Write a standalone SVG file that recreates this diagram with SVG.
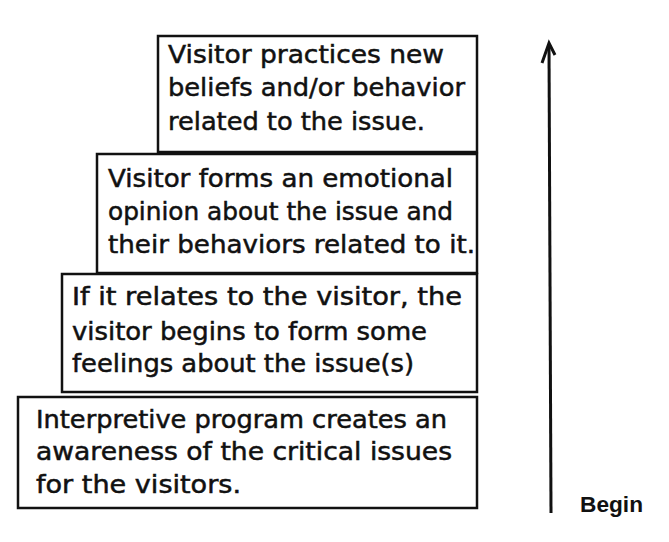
<svg xmlns="http://www.w3.org/2000/svg" width="669" height="542" viewBox="0 0 669 542">
<style>
.box{fill:#fff;stroke:#111;stroke-width:2.5}
.t{font-family:"DejaVu Sans","Liberation Sans",sans-serif;font-size:24px;fill:#111;stroke:#111;stroke-width:0.5}
.begin{font-family:"Liberation Sans",sans-serif;font-size:22px;font-weight:bold;fill:#111}
</style>
<rect width="669" height="542" fill="#fff"/>
<g id="node-1">
<rect class="box" x="158" y="36" width="319" height="116"/>
<text class="t" x="168" y="63" textLength="276" lengthAdjust="spacingAndGlyphs">Visitor practices new</text>
<text class="t" x="168" y="96" textLength="297" lengthAdjust="spacingAndGlyphs">beliefs and/or behavior</text>
<text class="t" x="168" y="130" textLength="257" lengthAdjust="spacingAndGlyphs">related to the issue.</text>
</g>
<g id="node-2">
<rect class="box" x="97" y="154" width="380" height="119"/>
<text class="t" x="108" y="187" textLength="345" lengthAdjust="spacingAndGlyphs">Visitor forms an emotional</text>
<text class="t" x="108" y="220" textLength="345" lengthAdjust="spacingAndGlyphs">opinion about the issue and</text>
<text class="t" x="108" y="253" textLength="367" lengthAdjust="spacingAndGlyphs">their behaviors related to it.</text>
</g>
<g id="node-3">
<rect class="box" x="62" y="274" width="415" height="118"/>
<text class="t" x="72" y="305" textLength="390" lengthAdjust="spacingAndGlyphs">If it relates to the visitor, the</text>
<text class="t" x="72" y="340" textLength="355" lengthAdjust="spacingAndGlyphs">visitor begins to form some</text>
<text class="t" x="72" y="372" textLength="342" lengthAdjust="spacingAndGlyphs">feelings about the issue(s)</text>
</g>
<g id="node-4">
<rect class="box" x="18" y="397" width="459" height="111"/>
<text class="t" x="36" y="428" textLength="411" lengthAdjust="spacingAndGlyphs">Interpretive program creates an</text>
<text class="t" x="36" y="460" textLength="416" lengthAdjust="spacingAndGlyphs">awareness of the critical issues</text>
<text class="t" x="36" y="493" textLength="205" lengthAdjust="spacingAndGlyphs">for the visitors.</text>
</g>
<g id="connectors">
<line x1="551" y1="513" x2="549" y2="46" stroke="#111" stroke-width="3"/>
<path d="M542 63 L549 43 L555 55" fill="none" stroke="#111" stroke-width="3" stroke-linejoin="miter"/>
</g>
<text class="begin" x="580" y="512" textLength="63" lengthAdjust="spacingAndGlyphs">Begin</text>
</svg>
